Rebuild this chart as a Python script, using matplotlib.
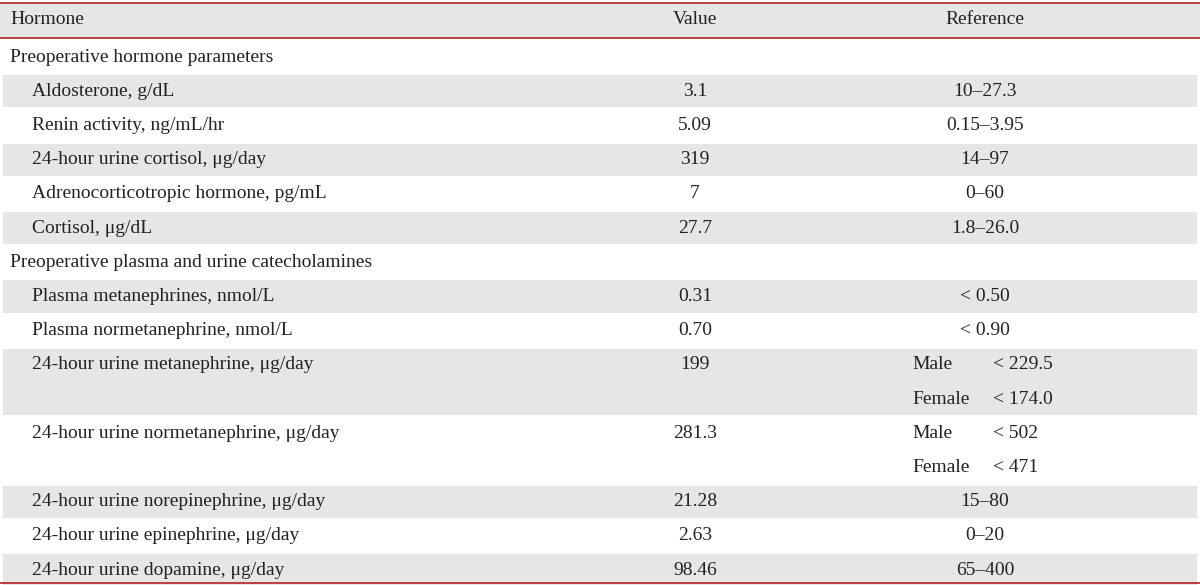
import matplotlib.pyplot as plt
from matplotlib.patches import Rectangle

sections = ["Preoperative hormone parameters", "Preoperative plasma and urine catecholamines"]
hormones1 = ["Aldosterone, g/dL", "Renin activity, ng/mL/hr", "24-hour urine cortisol, μg/day",
             "Adrenocorticotropic hormone, pg/mL", "Cortisol, μg/dL"]
values1 = ["3.1", "5.09", "319", "7", "27.7"]
refs1 = ["10–27.3", "0.15–3.95", "14–97", "0–60", "1.8–26.0"]
hormones2 = ["Plasma metanephrines, nmol/L", "Plasma normetanephrine, nmol/L",
             "24-hour urine metanephrine, μg/day", "24-hour urine normetanephrine, μg/day",
             "24-hour urine norepinephrine, μg/day", "24-hour urine epinephrine, μg/day",
             "24-hour urine dopamine, μg/day"]
values2 = ["0.31", "0.70", "199", "281.3", "21.28", "2.63", "98.46"]
refs2 = ["< 0.50", "< 0.90", [("Male", "< 229.5"), ("Female", "< 174.0")],
         [("Male", "< 502"), ("Female", "< 471")], "15–80", "0–20", "65–400"]

W, H = 1200, 585
fig = plt.figure(figsize=(12, 5.85), dpi=100)
ax = fig.add_axes([0, 0, 1, 1])
ax.set_xlim(0, W)
ax.set_ylim(H, 0)
ax.axis("off")

font = dict(family="Liberation Serif", fontsize=14, color="#222222", va="center")
red = "#b22222"
gray = "#e6e6e6"
rh = 34.2
vx, rx = 695, 985

ax.add_patch(Rectangle((0, 3), W, 35, color=gray, lw=0))
ax.plot([0, W], [3, 3], color=red, lw=1.2)
ax.plot([0, W], [38, 38], color=red, lw=1.2)
ax.text(10, 20, "Hormone", **font)
ax.text(vx, 20, "Value", ha="center", **font)
ax.text(rx, 20, "Reference", ha="center", **font)

y = 40
shade = True
for sec, hs, vs, rs in [(sections[0], hormones1, values1, refs1), (sections[1], hormones2, values2, refs2)]:
    ax.text(10, y + rh / 2, sec, **font)
    y += rh
    for h, v, r in zip(hs, vs, rs):
        n = 2 if isinstance(r, list) else 1
        if shade:
            ax.add_patch(Rectangle((3, y + 1), W - 6, rh * n - 2, color=gray, lw=0))
        shade = not shade
        yc = y + rh / 2
        ax.text(32, yc, h, **font)
        ax.text(vx, yc, v, ha="center", **font)
        if n == 1:
            ax.text(rx, yc, r, ha="center", **font)
        else:
            for i, (sex, lim) in enumerate(r):
                ax.text(912, yc + i * rh, sex, **font)
                ax.text(993, yc + i * rh, lim, **font)
        y += rh * n
    shade = True
ax.plot([0, W], [583, 583], color=red, lw=1.2)

fig.savefig("out.png", dpi=100)
